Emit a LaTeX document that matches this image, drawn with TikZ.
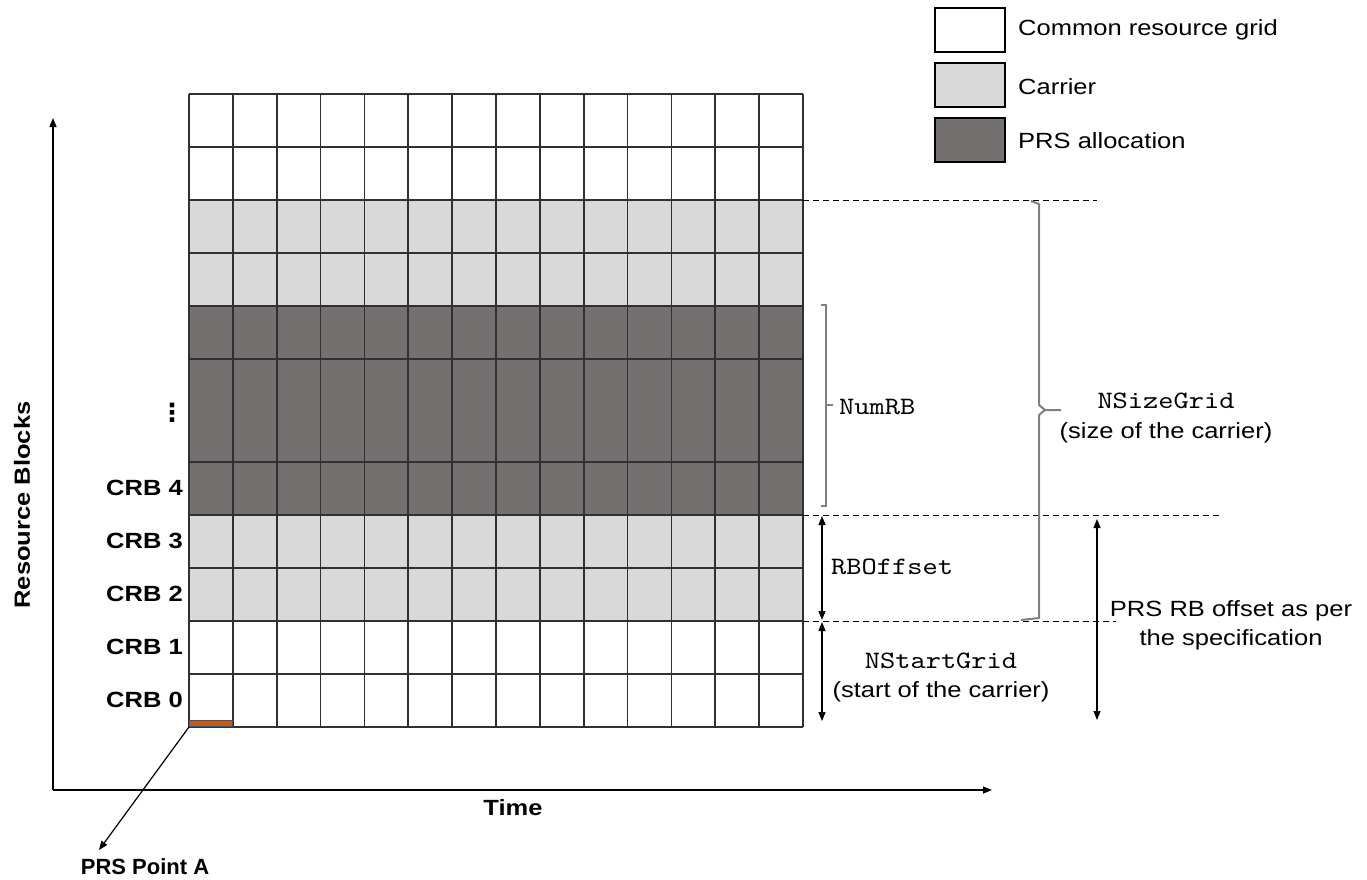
\documentclass[tikz,border=0pt]{standalone}
\usepackage{fontspec}
\setmainfont{Liberation Sans}[FakeStretch=1.16]
\newfontfamily\plainsans{Liberation Sans}
\newfontfamily\monof{lmmono10-regular.otf}[FakeStretch=1.16]
\newfontfamily\dejavu{DejaVu Sans}
\usetikzlibrary{arrows.meta}
\definecolor{carrier}{HTML}{D9D9D9}
\definecolor{prs}{HTML}{757070}
\definecolor{pointa}{HTML}{C55A11}
\definecolor{pointab}{HTML}{2F5597}
\definecolor{gridline}{HTML}{303030}
\definecolor{brk}{HTML}{7F7F7F}
\tikzset{
  txt/.style={font=\fontsize{22}{29}\selectfont, inner sep=0pt, align=center},
  mono/.style={font=\fontsize{25}{32}\selectfont\monof, inner sep=0pt},
  lbl/.style={font=\fontsize{22}{26}\selectfont\bfseries, inner sep=0pt},
  legbox/.style={draw=black, line width=1.5pt, minimum width=70pt, minimum height=44pt, inner sep=0pt},
  dline/.style={dash pattern=on 6pt off 4pt, line width=1pt},
  tip/.style={-{Triangle[length=9pt,width=7pt]}},
  dimarrow/.style={{Triangle[length=9pt,width=7pt]}-{Triangle[length=9pt,width=7pt]}, line width=1.2pt},
  brace/.style={draw=brk, line width=2pt},
  axis/.style={line width=1.5pt},
}
\begin{document}
\begin{tikzpicture}[x=1pt,y=-1pt]
\useasboundingbox (0,0) rectangle (1367,879);
% rows of the grid
\foreach \t/\b/\c in {94/147/white,147/200/white,200/253/carrier,253/306/carrier,306/359/prs,359/462/prs,462/515/prs,515/568/carrier,568/621/carrier,621/674/white,674/727/white}
  \fill[\c] (189,\t) rectangle (803,\b);
\foreach \i in {0,...,14}
  \draw[gridline, line width=1.8pt] ({189+\i*43.857},94) -- ({189+\i*43.857},727);
\foreach \y in {94,147,200,253,306,359,462,515,568,621,674,727}
  \draw[gridline, line width=1.8pt] (189,\y) -- (803,\y);
% point A marker
\fill[pointa, draw=pointab, line width=0.8pt] (189,720) rectangle (232,726);
\coordinate (A) at (189,727);

% axes
\coordinate (O) at (53,790);
\coordinate (ytop) at (53,118);
\coordinate (xend) at (992,790);
\draw[axis, tip] (O) -- (ytop);
\draw[axis, tip] (O) -- (xend);
\node[lbl] (time) at (513,808) {Time};
\node[lbl, rotate=90] (rb) at (22,505) {Resource Blocks};

% PRS point A
\node[lbl, font=\fontsize{22}{26}\selectfont\plainsans\bfseries] (pa) at (145,867) {PRS Point A};
\coordinate (paend) at (99,850);
\draw[line width=1.2pt, tip] (A) -- (paend);

% CRB labels
\node[lbl, anchor=east] (c4) at (183,488) {CRB 4};
\node[lbl, anchor=east] (c3) at (183,541) {CRB 3};
\node[lbl, anchor=east] (c2) at (183,594) {CRB 2};
\node[lbl, anchor=east] (c1) at (183,647) {CRB 1};
\node[lbl, anchor=east] (c0) at (183,700) {CRB 0};
\node[inner sep=0pt, font=\fontsize{25}{28}\selectfont\dejavu\bfseries] (vd) at (172,413) {⋮};

% dashed guide lines
\coordinate (d1a) at (803,200); \coordinate (d1b) at (1097,200);
\coordinate (d2a) at (803,515); \coordinate (d2b) at (1220,515);
\coordinate (d3a) at (803,621); \coordinate (d3b) at (1116,621);
\draw[dline] (d1a) -- (d1b);
\draw[dline] (d2a) -- (d2b);
\draw[dline] (d3a) -- (d3b);

% NumRB bracket
\draw[brace] (821,305) -- (826,305) -- (826,506) -- (821,506);
\draw[brace] (826,405) -- (833,405);
\node[mono, anchor=west] (numrb) at (839,407) {NumRB};

% NSizeGrid bracket
\draw[brace, line join=round] (1031,201) -- (1039,204) -- (1039,405) -- (1045,410) -- (1061,410);
\draw[brace, line join=round] (1045,410) -- (1039,415) -- (1039,618) -- (1021,620);
\node[mono] (nsg) at (1166,401) {NSizeGrid};
\node[txt] (nsg2) at (1166,433) {(size of the carrier)};

% RBOffset arrow
\coordinate (r1) at (822,516); \coordinate (r2) at (822,620);
\draw[dimarrow] (r1) -- (r2);
\node[mono, anchor=west] (rbo) at (831,567) {RBOffset};

% NStartGrid arrow
\coordinate (s1) at (822,622); \coordinate (s2) at (822,721);
\draw[dimarrow] (s1) -- (s2);
\node[mono] (nst) at (941,661) {NStartGrid};
\node[txt] (nst2) at (941,692) {(start of the carrier)};

% PRS RB offset arrow
\coordinate (p1) at (1097,519); \coordinate (p2) at (1097,720);
\draw[dimarrow] (p1) -- (p2);
\node[txt] (prso) at (1231,625) {PRS RB offset as per\\the specification};

% legend
\node[legbox, fill=white] (lg1) at (970,30) {};
\node[legbox, fill=carrier] (lg2) at (970,85) {};
\node[legbox, fill=prs] (lg3) at (970,140) {};
\node[txt, anchor=west] (lt1) at (1018,30) {Common resource grid};
\node[txt, anchor=west] (lt2) at (1018,87) {Carrier};
\node[txt, anchor=west] (lt3) at (1018,141) {PRS allocation};
\end{tikzpicture}
\end{document}
